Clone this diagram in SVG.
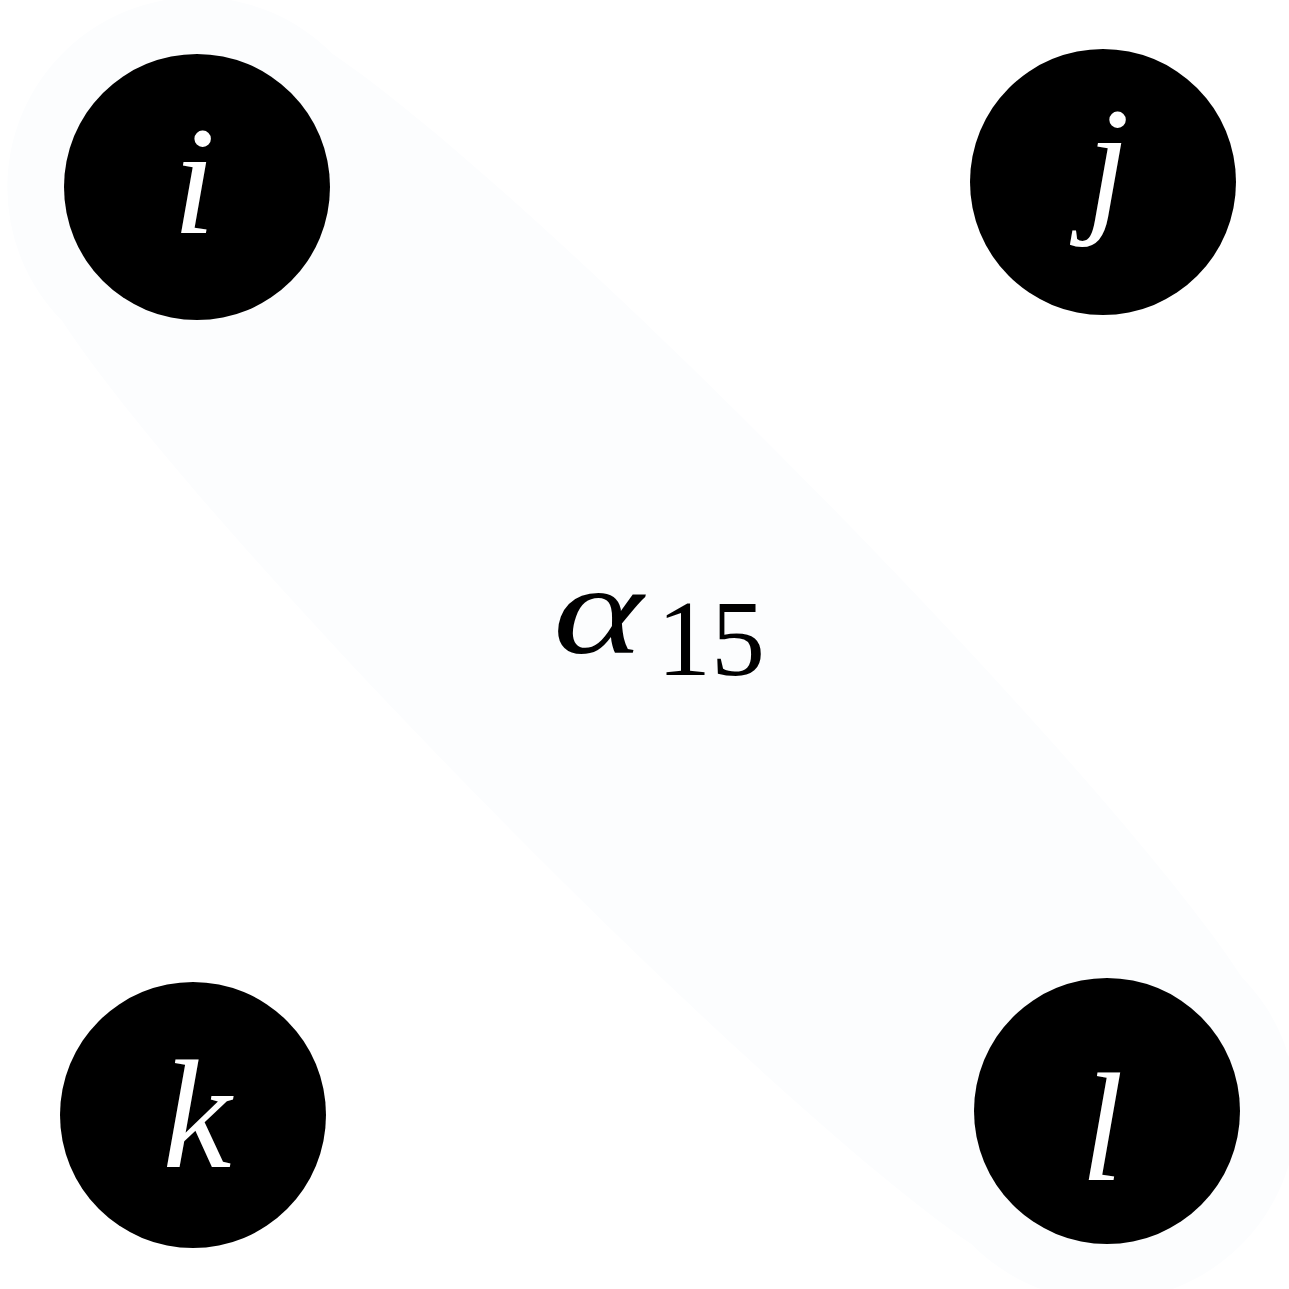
<svg xmlns="http://www.w3.org/2000/svg" width="1289" height="1289" viewBox="0 0 1289 1289">
<style>
.node{fill:#000}
.lbl{fill:#fff;font-family:"Liberation Serif","DejaVu Serif",serif;font-style:italic;font-size:155px;text-anchor:middle}
.math{fill:#000;font-family:"Liberation Serif","DejaVu Serif",serif}
.band{fill:#fcfdfe;stroke:none}
</style>
<rect width="1289" height="1289" fill="#fff"/>
<g id="connectors">
<path class="band" transform="translate(652 649) rotate(45.44)" d="M -648,-190 C -400,-240 400,-240 648,-190 A 190 190 0 0 1 648,190 C 400,240 -400,240 -648,190 A 190 190 0 0 1 -648,-190 Z"/>
</g>
<g id="label-alpha">
<text class="math" x="553" y="653" font-size="128" font-style="italic" textLength="90" lengthAdjust="spacingAndGlyphs">α</text>
<text class="math" x="657" y="675" font-size="108">15</text>
</g>
<g id="node-i">
<circle class="node" cx="197" cy="187" r="133"/>
<text class="lbl" x="194" y="233">i</text>
</g>
<g id="node-j">
<circle class="node" cx="1103" cy="182" r="133"/>
<text class="lbl" x="1108" y="214">j</text>
</g>
<g id="node-k">
<circle class="node" cx="193" cy="1115" r="133"/>
<text class="lbl" x="197" y="1167">k</text>
</g>
<g id="node-l">
<circle class="node" cx="1107" cy="1111" r="133"/>
<text class="lbl" x="1102" y="1180">l</text>
</g>
</svg>
